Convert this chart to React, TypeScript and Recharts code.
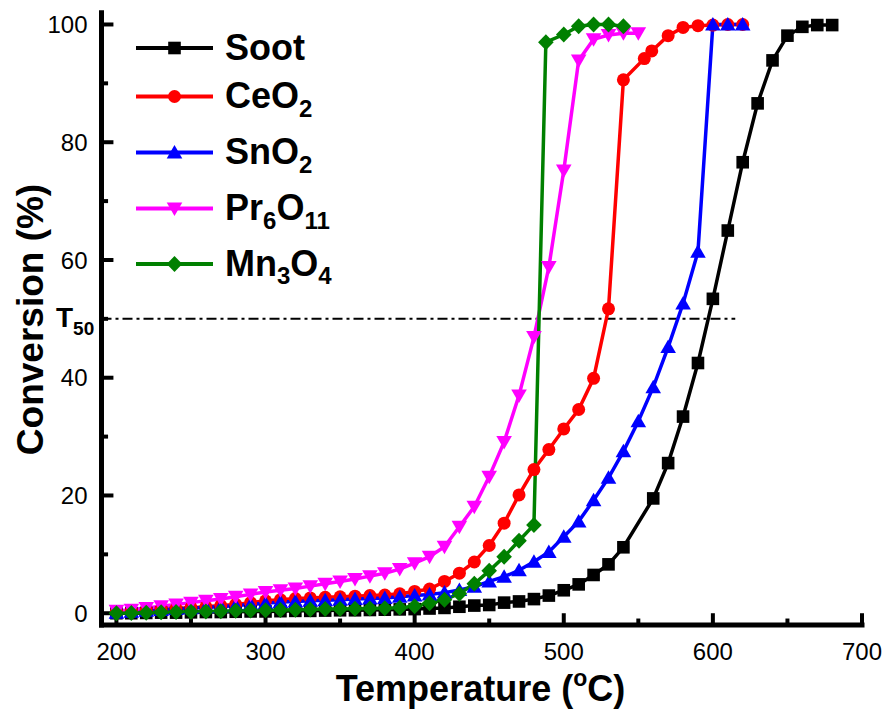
import { LineChart, Line, XAxis, YAxis, ReferenceLine } from "recharts"

// temperatures (°C) and conversion (%) per sample
const sootT = [200, 210, 220, 230, 240, 250, 260, 270, 280, 290, 300, 310, 320, 330, 340, 350, 360, 370, 380, 390, 400, 410, 420, 430, 440, 450, 460, 470, 480, 490, 500, 510, 520, 530, 540, 560, 570, 580, 590, 600, 610, 620, 630, 640, 650, 660, 670, 680]
const sootV = [0, 0, 0.05, 0.1, 0.1, 0.15, 0.2, 0.2, 0.25, 0.3, 0.3, 0.35, 0.4, 0.4, 0.45, 0.5, 0.5, 0.55, 0.6, 0.65, 0.7, 0.8, 0.9, 1.1, 1.3, 1.4, 1.8, 2.0, 2.4, 3.0, 3.9, 4.9, 6.5, 8.3, 11.2, 19.5, 25.5, 33.4, 42.5, 53.4, 65.0, 76.6, 86.6, 93.9, 98.1, 99.6, 99.9, 99.9]

const ceT = [200, 210, 220, 230, 240, 250, 260, 270, 280, 290, 300, 310, 320, 330, 340, 350, 360, 370, 380, 390, 400, 410, 420, 430, 440, 450, 460, 470, 480, 490, 500, 510, 520, 530, 540, 554, 559, 570, 580, 590, 600, 610, 620]
const ceV = [0.2, 0.35, 0.5, 0.65, 0.8, 0.95, 1.1, 1.3, 1.5, 1.8, 2.1, 2.3, 2.5, 2.6, 2.7, 2.8, 2.9, 3.0, 3.1, 3.3, 3.7, 4.1, 5.4, 6.8, 8.7, 11.5, 15.3, 20.1, 24.4, 27.8, 31.3, 34.6, 39.9, 51.7, 90.6, 94.2, 95.5, 98.1, 99.5, 99.8, 99.9, 100, 100]

const snT = [200, 210, 220, 230, 240, 250, 260, 270, 280, 290, 300, 310, 320, 330, 340, 350, 360, 370, 380, 390, 400, 410, 420, 430, 440, 450, 460, 470, 480, 490, 500, 510, 520, 530, 540, 550, 560, 570, 580, 590, 600, 610, 620]
const snV = [0.1, 0.25, 0.4, 0.55, 0.7, 0.85, 1.0, 1.1, 1.3, 1.5, 1.7, 1.9, 2.0, 2.1, 2.2, 2.3, 2.4, 2.5, 2.6, 2.8, 3.0, 3.2, 3.5, 3.95, 4.5, 5.4, 6.2, 7.3, 8.75, 10.4, 13.0, 15.6, 19.2, 23.0, 27.5, 32.6, 38.4, 45.2, 52.6, 61.4, 100, 100, 100]

const prT = [200, 210, 220, 230, 240, 250, 260, 270, 280, 290, 300, 310, 320, 330, 340, 350, 360, 370, 380, 390, 400, 410, 420, 430, 440, 450, 460, 470, 480, 490, 500, 510, 520, 530, 540, 550]
const prV = [0.4, 0.6, 0.9, 1.2, 1.5, 1.8, 2.1, 2.4, 2.8, 3.2, 3.6, 3.9, 4.2, 4.6, 5.0, 5.4, 5.8, 6.3, 6.8, 7.5, 8.5, 9.6, 11.3, 14.7, 18.1, 23.2, 29.1, 37.0, 46.9, 58.8, 75.2, 93.9, 97.5, 98.2, 98.5, 98.5]

const mnT = [200, 210, 220, 230, 240, 250, 260, 270, 280, 290, 300, 310, 320, 330, 340, 350, 360, 370, 380, 390, 400, 410, 420, 430, 440, 450, 460, 470, 480, 488, 500, 510, 520, 530, 540]
const mnV = [0, 0.05, 0.1, 0.15, 0.2, 0.25, 0.3, 0.35, 0.4, 0.45, 0.5, 0.55, 0.6, 0.65, 0.7, 0.7, 0.75, 0.8, 0.85, 0.95, 1.2, 1.7, 2.3, 3.3, 5.0, 7.2, 9.6, 12.3, 15.0, 97.0, 98.3, 99.7, 100, 100, 99.7]

const xTicks = [200, 250, 300, 350, 400, 450, 500, 550, 600, 650, 700]
const yTicks = [0, 10, 20, 30, 40, 50, 60, 70, 80, 90, 100]

const X_MIN = 190
const X_MAX = 700
const Y_MIN = -2
const Y_MAX = 102

const zip = (t: number[], v: number[]) => t.map((x, i) => ({ t: x, v: v[i] }))

type Shape = "square" | "circle" | "up" | "down" | "diamond"

const series: { name: string; sub: [string, string][]; color: string; shape: Shape; data: { t: number; v: number }[] }[] = [
  { name: "Soot", sub: [["Soot", ""]], color: "#000000", shape: "square", data: zip(sootT, sootV) },
  { name: "CeO2", sub: [["CeO", "2"]], color: "#ff0000", shape: "circle", data: zip(ceT, ceV) },
  { name: "SnO2", sub: [["SnO", "2"]], color: "#0000ff", shape: "up", data: zip(snT, snV) },
  { name: "Pr6O11", sub: [["Pr", "6"], ["O", "11"]], color: "#ff00ff", shape: "down", data: zip(prT, prV) },
  { name: "Mn3O4", sub: [["Mn", "3"], ["O", "4"]], color: "#008000", shape: "diamond", data: zip(mnT, mnV) },
]

const FONT = "'Liberation Sans', Arial, sans-serif"

function Marker({ shape, x, y, color }: { shape: Shape; x: number; y: number; color: string }) {
  if (x == null || y == null || isNaN(x) || isNaN(y)) return null
  switch (shape) {
    case "square":
      return <rect x={x - 6.3} y={y - 6.3} width={12.6} height={12.6} fill={color} />
    case "circle":
      return <circle cx={x} cy={y} r={6.5} fill={color} />
    case "up":
      return <path d={`M${x},${y - 7.5} L${x + 7.8},${y + 6} L${x - 7.8},${y + 6} Z`} fill={color} />
    case "down":
      return <path d={`M${x},${y + 7.5} L${x + 7.8},${y - 6} L${x - 7.8},${y - 6} Z`} fill={color} />
    default:
      return <path d={`M${x},${y - 8} L${x + 7.8},${y} L${x},${y + 8} L${x - 7.8},${y} Z`} fill={color} />
  }
}

const XTick = (props: any) => {
  const { x, y, payload } = props
  if (payload.value % 100 !== 0) return <g />
  return (
    <text x={x} y={y} textAnchor="middle" fontSize={24} fontFamily={FONT} fill="#000">
      {payload.value}
    </text>
  )
}

const YTick = (props: any) => {
  const { x, y, payload } = props
  if (payload.value % 20 !== 0) return <g />
  return (
    <text x={x} y={y} dy="0.36em" textAnchor="end" fontSize={24} fontFamily={FONT} fill="#000">
      {payload.value}
    </text>
  )
}

const legendY = [48, 96.5, 152.5, 208.5, 264]
const frame = { stroke: "#000", strokeWidth: 5, strokeLinecap: "square" as const }

export default function App() {
  return (
    <div style={{ position: "absolute", left: 0, top: 0, width: 884, height: 710, background: "#fff" }}>
      <LineChart width={884} height={710} margin={{ top: 12.7, right: 22, bottom: 0, left: 0 }}>
        <XAxis
          dataKey="t"
          type="number"
          domain={[X_MIN, X_MAX]}
          ticks={xTicks}
          interval={0}
          height={85}
          tickSize={0}
          tickMargin={35}
          tickLine={false}
          tick={XTick}
          axisLine={frame}
        />
        <XAxis
          xAxisId="top"
          orientation="top"
          type="number"
          domain={[X_MIN, X_MAX]}
          height={0}
          tick={false}
          tickLine={false}
          axisLine={frame}
        />
        <YAxis
          type="number"
          domain={[Y_MIN, Y_MAX]}
          ticks={yTicks}
          interval={0}
          width={101.5}
          tickSize={0}
          tickMargin={14}
          tickLine={false}
          tick={YTick}
          axisLine={frame}
        />
        <YAxis
          yAxisId="right"
          orientation="right"
          type="number"
          domain={[Y_MIN, Y_MAX]}
          width={0}
          tick={false}
          tickLine={false}
          axisLine={frame}
        />
        {/* inward tick marks */}
        {xTicks.map((t) => (
          <ReferenceLine
            key={`xt-${t}`}
            segment={[{ x: t, y: Y_MIN }, { x: t, y: Y_MIN + (t % 100 === 0 ? 2.0 : 1.1) }]}
            stroke="#000"
            strokeWidth={4}
          />
        ))}
        {yTicks.map((v) => (
          <ReferenceLine
            key={`yt-${v}`}
            segment={[{ x: X_MIN, y: v }, { x: X_MIN + (v % 20 === 0 ? 8 : 4.4), y: v }]}
            stroke="#000"
            strokeWidth={4}
          />
        ))}
        <ReferenceLine
          segment={[{ x: X_MIN, y: 50 }, { x: 615, y: 50 }]}
          stroke="#000"
          strokeWidth={2}
          strokeDasharray="10 4 3 4"
        />
        {series.map((s) => (
          <Line
            key={s.name}
            data={s.data}
            dataKey="v"
            type="linear"
            stroke={s.color}
            strokeWidth={3.5}
            isAnimationActive={false}
            activeDot={false}
            dot={(p: any) => (
              <Marker key={`${s.name}-${p.index}`} shape={s.shape} x={p.cx} y={p.cy} color={s.color} />
            )}
          />
        ))}
      </LineChart>
      <svg
        width={884}
        height={710}
        style={{ position: "absolute", left: 0, top: 0, pointerEvents: "none" }}
        fontFamily={FONT}
      >
        {series.map((s, i) => (
          <g key={s.name}>
            <line x1={136} x2={213} y1={legendY[i]} y2={legendY[i]} stroke={s.color} strokeWidth={4} />
            <Marker shape={s.shape} x={174.5} y={legendY[i]} color={s.color} />
            <text x={225} y={legendY[i] + 11.7} fontSize={36} fontWeight="bold" fill="#000">
              {s.sub.map(([main, sub], j) => (
                <tspan key={j}>
                  <tspan dy={j > 0 ? -8.5 : 0}>{main}</tspan>
                  {sub && (
                    <tspan fontSize={24} dy={8.5}>
                      {sub}
                    </tspan>
                  )}
                </tspan>
              ))}
            </text>
          </g>
        ))}
        <text x={56} y={327} fontSize={28} fontWeight="bold" fill="#000">
          T<tspan fontSize={19} dy={8}>50</tspan>
        </text>
        <text x={480.5} y={701} textAnchor="middle" fontSize={36} fontWeight="bold" fill="#000">
          Temperature (<tspan fontSize={23} dy={-15}>o</tspan>
          <tspan dy={15}>C)</tspan>
        </text>
        <text
          x={43}
          y={319.5}
          transform="rotate(-90 43 319.5)"
          textAnchor="middle"
          fontSize={37}
          fontWeight="bold"
          fill="#000"
        >
          Conversion (%)
        </text>
      </svg>
    </div>
  )
}
